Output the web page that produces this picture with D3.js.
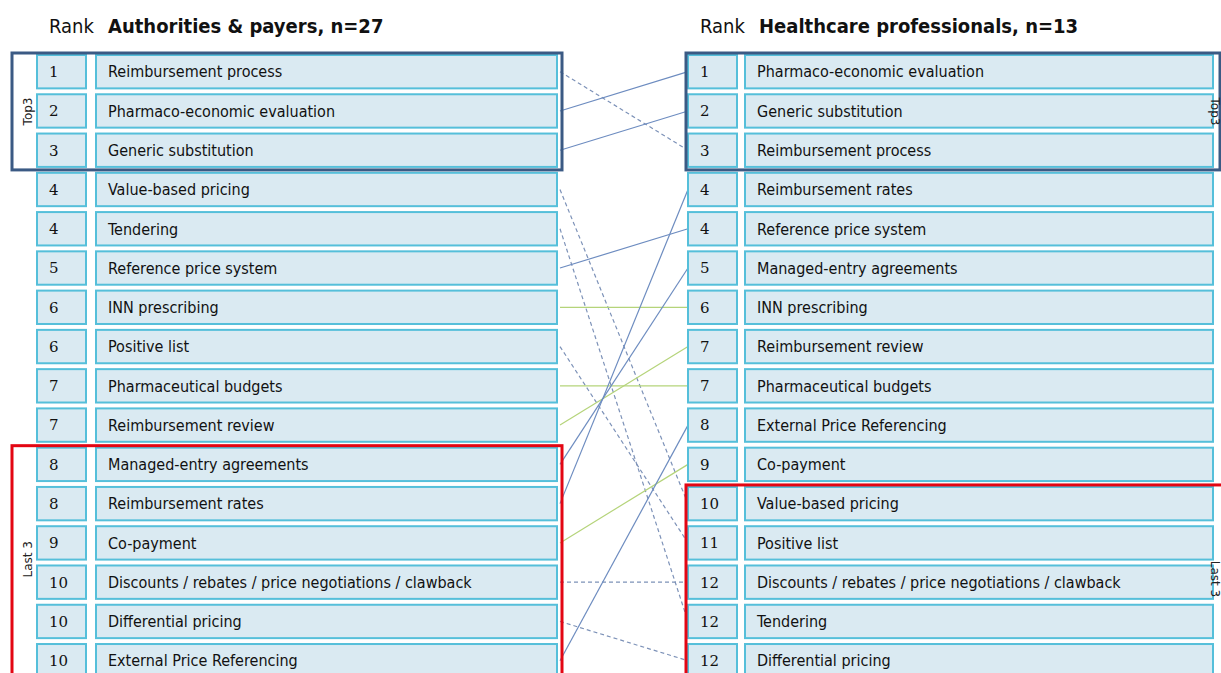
<!DOCTYPE html>
<html lang="en">
<head>
  <meta charset="utf-8">
  <title>Ranking comparison</title>
  <style type="text/css">
    body  { margin: 0; background: #fff; }
    svg   { display: block; }
    .lbl  { font: 16px "DejaVu Sans Condensed", "DejaVu Sans", sans-serif; fill: #111; }
    .num  { font: 15px "DejaVu Serif", serif; fill: #111; }
    .head { font: 20px "DejaVu Sans Condensed", "DejaVu Sans", sans-serif; fill: #111; }
    .side { font: 12px "DejaVu Sans", sans-serif; fill: #222; }
  </style>
</head>
<body>
<script src="https://cdn.jsdelivr.net/npm/d3@7"></script>
<script>
  //----------------------------------------------------------------------------
  // data
  var leftTitle  = "Authorities & payers, n=27";
  var rightTitle = "Healthcare professionals, n=13";

  var leftItems = [
    "Reimbursement process", "Pharmaco-economic evaluation", "Generic substitution",
    "Value-based pricing", "Tendering", "Reference price system", "INN prescribing",
    "Positive list", "Pharmaceutical budgets", "Reimbursement review",
    "Managed-entry agreements", "Reimbursement rates", "Co-payment",
    "Discounts / rebates / price negotiations / clawback", "Differential pricing",
    "External Price Referencing"
  ];
  var leftRanks = [1, 2, 3, 4, 4, 5, 6, 6, 7, 7, 8, 8, 9, 10, 10, 10];

  var rightItems = [
    "Pharmaco-economic evaluation", "Generic substitution", "Reimbursement process",
    "Reimbursement rates", "Reference price system", "Managed-entry agreements",
    "INN prescribing", "Reimbursement review", "Pharmaceutical budgets",
    "External Price Referencing", "Co-payment", "Value-based pricing", "Positive list",
    "Discounts / rebates / price negotiations / clawback", "Tendering",
    "Differential pricing"
  ];
  var rightRanks = [1, 2, 3, 4, 4, 5, 6, 7, 7, 8, 9, 10, 11, 12, 12, 12];

  // rows grouped as top 3 / last 3
  var leftGroups  = [{ name: "Top3", from: 0, to: 2, color: "#3b5a84" },
                     { name: "Last 3", from: 10, to: 16, color: "#e30613" }];
  var rightGroups = [{ name: "Top3", from: 0, to: 2, color: "#3b5a84" },
                     { name: "Last 3", from: 11, to: 16, color: "#e30613" }];

  //----------------------------------------------------------------------------
  var width = 1221;
  var height = 673;

  var svg = d3.select("body")
    .append("svg")
      .attr("width", width)
      .attr("height", height);

  // row positions
  var y = d3.scaleBand()
    .domain(d3.range(16))
    .range([55, 55 + 16 * 38.9])
    .paddingInner(0.15)
    .paddingOuter(0);

  var cols = {
    left:  { rank: 37,  rankW: 49, label: 96,  labelW: 461, box: [12, 562] },
    right: { rank: 688, rankW: 49, label: 745, labelW: 468, box: [686, 1220] }
  };

  // connecting lines (drawn first, under the boxes)
  var links = leftItems.map(function(d, i) {
    var j = rightItems.indexOf(d);
    var type = rightRanks[j] === leftRanks[i] ? "same"
             : rightRanks[j] < leftRanks[i] ? "up" : "down";
    return { i: i, j: j, type: type };
  });

  var lineColor = { same: "#b5d47a", up: "#6d8cc0", down: "#7d92b8" };

  svg.append("g").selectAll("line")
    .data(links)
    .enter().append("line")
      .attr("x1", cols.left.label + cols.left.labelW + 3)
      .attr("x2", cols.right.rank)
      .attr("y1", function(d) { return y(d.i) + y.bandwidth() / 2; })
      .attr("y2", function(d) { return y(d.j) + y.bandwidth() / 2; })
      .attr("stroke", function(d) { return lineColor[d.type]; })
      .attr("stroke-width", 1.2)
      .attr("stroke-dasharray", function(d) { return d.type === "down" ? "4,3" : null; });

  function column(c, items, ranks, title, groups, side) {
    var g = svg.append("g");

    g.append("text").attr("class", "head")
      .attr("x", c.rank + 12).attr("y", 33)
      .text("Rank");
    g.append("text").attr("class", "head")
      .attr("x", c.rank + 71).attr("y", 33)
      .style("font-weight", "bold")
      .text(title);

    var row = g.selectAll("g.row")
      .data(items)
      .enter().append("g")
        .attr("class", "row")
        .attr("transform", function(d, i) { return "translate(0," + y(i) + ")"; });

    row.append("rect")
      .attr("x", c.rank).attr("width", c.rankW)
      .attr("height", y.bandwidth())
      .attr("fill", "#daeaf2").attr("stroke", "#55bfda").attr("stroke-width", 2);
    row.append("rect")
      .attr("x", c.label).attr("width", c.labelW)
      .attr("height", y.bandwidth())
      .attr("fill", "#daeaf2").attr("stroke", "#55bfda").attr("stroke-width", 2);

    row.append("text").attr("class", "num")
      .attr("x", c.rank + 12).attr("y", y.bandwidth() / 2).attr("dy", "0.36em")
      .text(function(d, i) { return ranks[i]; });
    row.append("text").attr("class", "lbl")
      .attr("x", c.label + 12).attr("y", y.bandwidth() / 2).attr("dy", "0.36em")
      .text(function(d) { return d; });

    // group frames
    groups.forEach(function(gr) {
      var top = y(gr.from) - 2;
      var bottom = gr.to >= 15 ? height + 10 : y(gr.to) + y.bandwidth() + 3;
      var x1 = gr.to >= 15 && side === "right" ? width + 5 : c.box[1];
      g.append("rect")
        .attr("x", c.box[0]).attr("y", top)
        .attr("width", x1 - c.box[0]).attr("height", bottom - top)
        .attr("fill", "none").attr("stroke", gr.color).attr("stroke-width", 3);

      var cy = (top + Math.min(bottom, height)) / 2;
      var sx = side === "left" ? c.box[0] + 20 : width - 10;
      g.append("text").attr("class", "side")
        .attr("transform", "translate(" + sx + "," + cy + ") rotate(" + (side === "left" ? -90 : 90) + ")")
        .attr("text-anchor", "middle")
        .text(gr.name);
    });
  }

  column(cols.left, leftItems, leftRanks, leftTitle, leftGroups, "left");
  column(cols.right, rightItems, rightRanks, rightTitle, rightGroups, "right");
  //----------------------------------------------------------------------------
</script>
</body>
</html>
